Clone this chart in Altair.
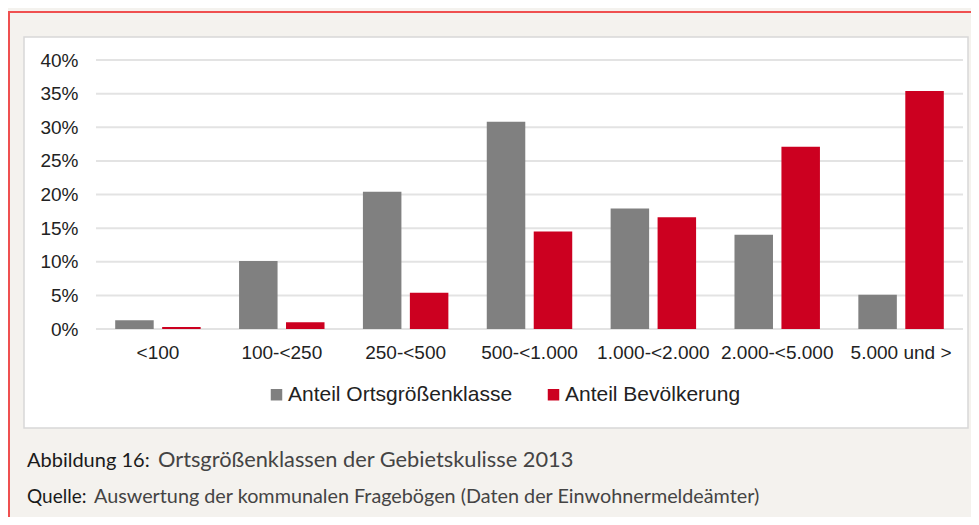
import altair as alt
import pandas as pd

categories = ["<100", "100-<250", "250-<500", "500-<1.000", "1.000-<2.000", "2.000-<5.000", "5.000 und >"]
series = ["Anteil Ortsgrößenklasse", "Anteil Bevölkerung"]
anteil_ort = [1.3, 10.1, 20.4, 30.8, 17.9, 14.0, 5.1]
anteil_bev = [0.3, 1.0, 5.4, 14.5, 16.6, 27.1, 35.4]
colors = ["#808080", "#cc0020"]
y_ticks = [0, 0.05, 0.10, 0.15, 0.20, 0.25, 0.30, 0.35, 0.40]
caption1_label = "Abbildung 16:"
caption1_text = "Ortsgrößenklassen der Gebietskulisse 2013"
caption2_label = "Quelle:"
caption2_text = "Auswertung der kommunalen Fragebögen (Daten der Einwohnermeldeämter)"

rows = []
for c, a, b in zip(categories, anteil_ort, anteil_bev):
    rows.append({"kat": c, "serie": series[0], "wert": a / 100})
    rows.append({"kat": c, "serie": series[1], "wert": b / 100})
df = pd.DataFrame(rows)
one = pd.DataFrame({"t": [""]})

W, H = 867, 269

box = alt.Chart(one).mark_rect(fill="white", stroke="#d8d8d8", strokeWidth=1.5).encode(
    x=alt.value(-72), x2=alt.value(872), y=alt.value(-23), y2=alt.value(368)
)
red_top = alt.Chart(one).mark_rule(color="#ef5050", strokeWidth=2).encode(
    x=alt.value(-88), x2=alt.value(880), y=alt.value(-48)
)
red_left = alt.Chart(one).mark_rule(color="#ef5050", strokeWidth=2).encode(
    x=alt.value(-87), y=alt.value(-48), y2=alt.value(460)
)

yaxis = alt.Axis(title=None, values=y_ticks, format=".0%", domain=False, ticks=False,
                 grid=False, labelFontSize=19, labelFont="Liberation Sans",
                 labelColor="#222", labelPadding=18, labelOverlap=False,
                 labelBound=False, zindex=2)

grid = alt.Chart(pd.DataFrame({"v": y_ticks})).mark_rule(color="#e3e3e3", strokeWidth=2).encode(
    y=alt.Y("v:Q", scale=alt.Scale(domain=[0, 0.4]), axis=yaxis)
)

bars = alt.Chart(df).mark_bar().encode(
    x=alt.X("kat:N", sort=categories,
            scale=alt.Scale(paddingInner=0.31, paddingOuter=0.155),
            axis=alt.Axis(title=None, labelAngle=0, domain=False, ticks=False, grid=False,
                          labelFontSize=19, labelFont="Liberation Sans", labelColor="#222",
                          labelPadding=14, zindex=2)),
    xOffset=alt.XOffset("serie:N", sort=series, scale=alt.Scale(paddingInner=0.18, paddingOuter=0)),
    y=alt.Y("wert:Q", scale=alt.Scale(domain=[0, 0.4]), axis=yaxis),
    color=alt.Color("serie:N", sort=series, scale=alt.Scale(domain=series, range=colors),
                    legend=alt.Legend(orient="none", legendX=170, legendY=324, direction="horizontal",
                                      title=None, symbolType="square", symbolSize=132,
                                      symbolStrokeWidth=0, labelFontSize=21,
                                      labelFont="Liberation Sans", labelColor="#222",
                                      labelLimit=500, columnPadding=30, labelOffset=1,
                                      padding=0, zindex=2)),
)

def txt(s, x, y, size, color):
    return alt.Chart(pd.DataFrame({"t": [s]})).mark_text(
        align="left", baseline="alphabetic", font="Lato", fontSize=size, color=color
    ).encode(x=alt.value(x), y=alt.value(y), text="t:N")

cap = (txt(caption1_label, -69, 407, 20, "#1a1a1a")
       + txt(caption1_text, 62, 407, 21.8, "#444444")
       + txt(caption2_label, -69, 443, 19, "#1a1a1a")
       + txt(caption2_text, -2, 443, 19.8, "#444444"))

chart = alt.layer(red_top, red_left, box, grid, bars, cap).properties(
    width=W, height=H,
    padding={"left": 88, "top": 52, "right": 8, "bottom": 188},
    autosize=alt.AutoSizeParams(type="none"),
    background="#f4f2ee",
).configure_view(stroke=None)

chart.save("out.html", embed_options={"renderer": "svg", "actions": False})
